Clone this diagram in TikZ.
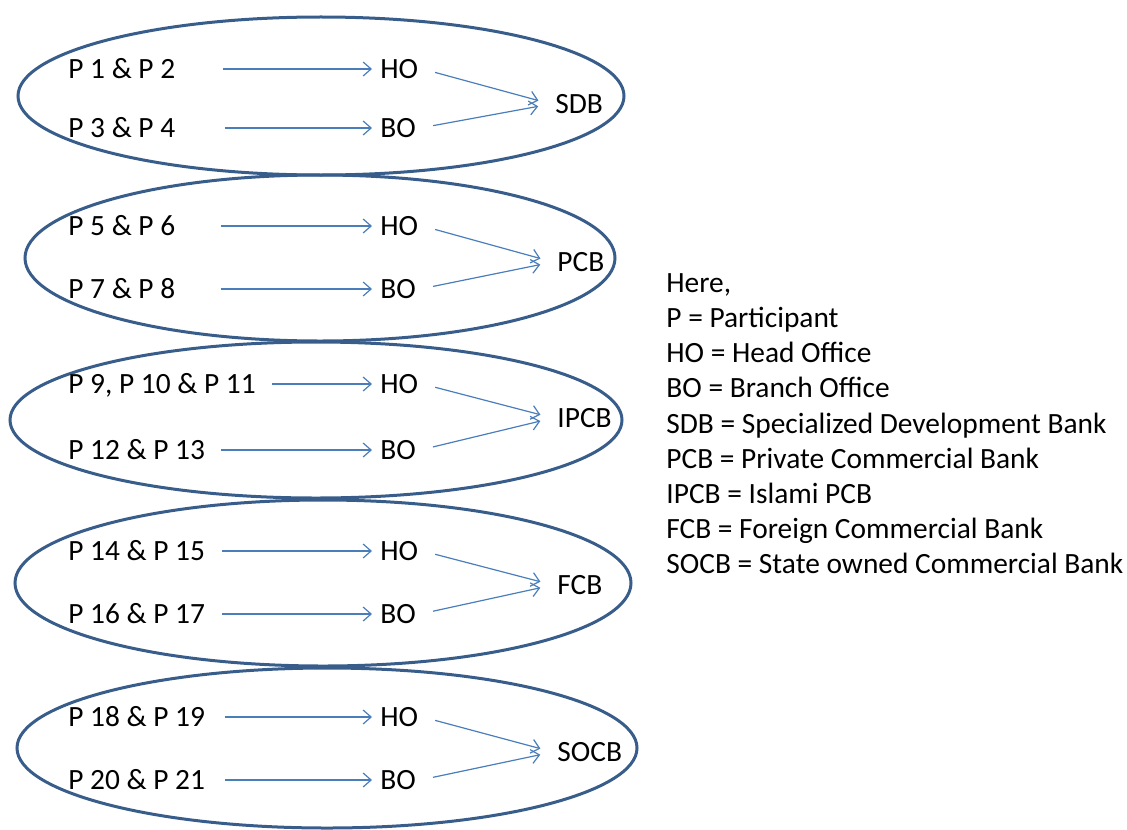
\documentclass[tikz,border=0pt]{standalone}
\usepackage{fontspec}
\setmainfont{Carlito}
\usetikzlibrary{arrows.meta}

\definecolor{ringblue}{HTML}{385D8A}
\definecolor{flowblue}{HTML}{4A7EBB}

\tikzset{
	ring/.style={draw=ringblue, line width=1.5pt},
	lbl/.style={anchor=west, inner sep=2pt, text height=9.5pt, text depth=0pt},
	feed/.style={draw=flowblue, line width=0.6pt, -{Straight Barb[length=4pt,width=7pt]}, shorten >=2pt},
	merge/.style={draw=flowblue, line width=0.6pt, -{Straight Barb[length=4pt,width=7pt]}, shorten <=6.5pt, shorten >=6.5pt},
	legend/.style={anchor=north west, inner sep=0pt, align=left}
}

\begin{document}
\begin{tikzpicture}[x=0.5pt, y=-0.5pt, font=\fontsize{14.7}{17.6}\selectfont]
		\useasboundingbox (0,0) rectangle (1127,829);
		
		% Ellipses round the five bank groups
		\draw[ring] (321,96) ellipse [x radius=151.5pt, y radius=39.5pt];
		\draw[ring] (320,258) ellipse [x radius=147.5pt, y radius=41.5pt];
		\draw[ring] (316,420) ellipse [x radius=153pt, y radius=39pt];
		\draw[ring] (323,583) ellipse [x radius=154pt, y radius=41.5pt];
		\draw[ring] (327,748) ellipse [x radius=155pt, y radius=40pt];
		
		% SDB group
		\node[lbl] (p1) at (64,69) {P 1 \& P 2};
		\node[lbl] (ho1) at (376,69) {HO};
		\node[lbl] (p3) at (64,128) {P 3 \& P 4};
		\node[lbl] (bo1) at (376,128) {BO};
		\node[lbl] (sdb) at (551,104) {SDB};
		\draw[feed, shorten <=21.5pt] (p1) -- (ho1);
		\draw[feed, shorten <=22.5pt] (p3) -- (bo1);
		\draw[merge] (ho1.east) -- (sdb.west);
		\draw[merge] (bo1.east) -- (sdb.west);
		
		% PCB group
		\node[lbl] (p5) at (64,226) {P 5 \& P 6};
		\node[lbl] (ho2) at (376,226) {HO};
		\node[lbl] (p7) at (64,289) {P 7 \& P 8};
		\node[lbl] (bo2) at (376,289) {BO};
		\node[lbl] (pcb) at (553,262) {PCB};
		\draw[feed, shorten <=20.5pt] (p5) -- (ho2);
		\draw[feed, shorten <=20.5pt] (p7) -- (bo2);
		\draw[merge] (ho2.east) -- (pcb.west);
		\draw[merge] (bo2.east) -- (pcb.west);
		
		% IPCB group
		\node[lbl] (p9) at (64,384) {P 9, P 10 \& P 11};
		\node[lbl] (ho3) at (376,384) {HO};
		\node[lbl] (p12) at (64,450) {P 12 \& P 13};
		\node[lbl] (bo3) at (376,450) {BO};
		\node[lbl] (ipcb) at (553,418) {IPCB};
		\draw[feed, shorten <=6pt] (p9) -- (ho3);
		\draw[feed, shorten <=6pt] (p12) -- (bo3);
		\draw[merge] (ho3.east) -- (ipcb.west);
		\draw[merge] (bo3.east) -- (ipcb.west);
		
		% FCB group
		\node[lbl] (p14) at (64,551) {P 14 \& P 15};
		\node[lbl] (ho4) at (376,551) {HO};
		\node[lbl] (p16) at (64,614) {P 16 \& P 17};
		\node[lbl] (bo4) at (376,614) {BO};
		\node[lbl] (fcb) at (553,585) {FCB};
		\draw[feed, shorten <=6.5pt] (p14) -- (ho4);
		\draw[feed, shorten <=6.5pt] (p16) -- (bo4);
		\draw[merge] (ho4.east) -- (fcb.west);
		\draw[merge] (bo4.east) -- (fcb.west);
		
		% SOCB group
		\node[lbl] (p18) at (64,717) {P 18 \& P 19};
		\node[lbl] (ho5) at (376,717) {HO};
		\node[lbl] (p20) at (64,780) {P 20 \& P 21};
		\node[lbl] (bo5) at (376,780) {BO};
		\node[lbl] (socb) at (553,752) {SOCB};
		\draw[feed, shorten <=8pt] (p18) -- (ho5);
		\draw[feed, shorten <=8pt] (p20) -- (bo5);
		\draw[merge] (ho5.east) -- (socb.west);
		\draw[merge] (bo5.east) -- (socb.west);
		
		% Key to the abbreviations
		\node[legend] (key) at (666,273) {Here,\\
			P = Participant\\
			HO = Head Office\\
			BO = Branch Office\\
			SDB = Specialized Development Bank\\
			PCB = Private Commercial Bank\\
			IPCB = Islami PCB\\
			FCB = Foreign Commercial Bank\\
			SOCB = State owned Commercial Bank};
	\end{tikzpicture}
\end{document}
